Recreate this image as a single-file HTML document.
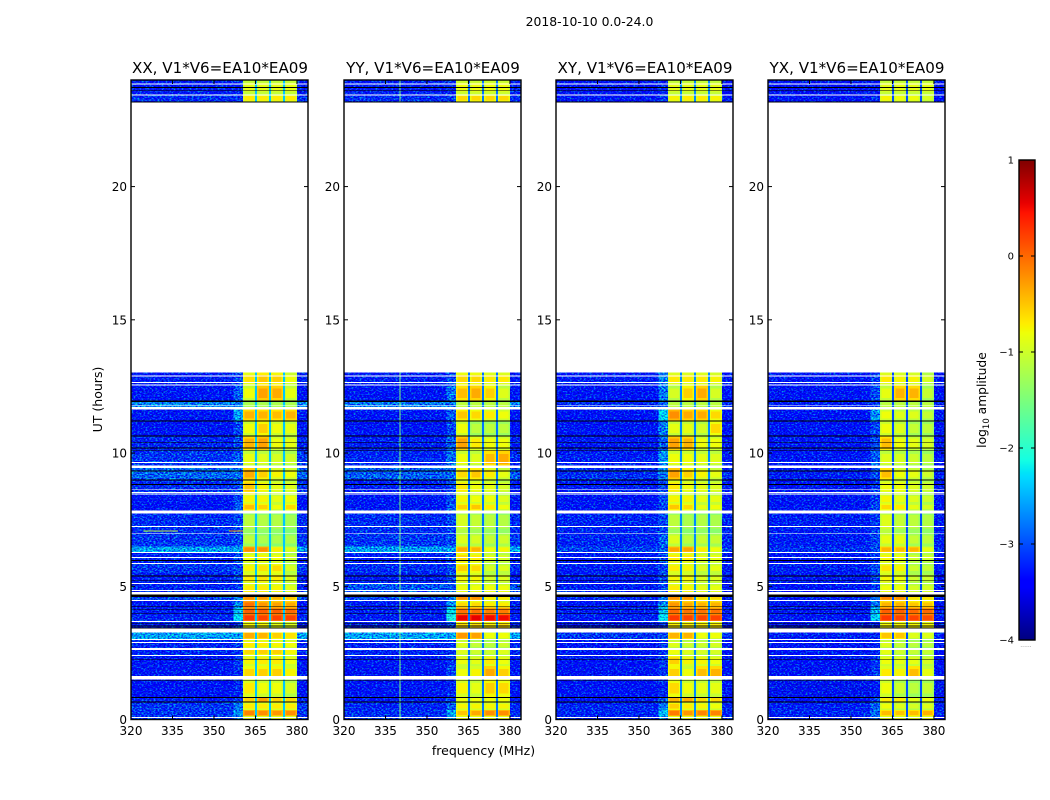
<!DOCTYPE html>
<html lang="en">
<head>
<meta charset="utf-8">
<title>2018-10-10 0.0-24.0</title>
<style>
html,body{margin:0;padding:0;background:#fff;width:1050px;height:800px;overflow:hidden}
svg{display:block}
text{font-family:"DejaVu Sans","Liberation Sans",sans-serif;fill:#000}
</style>
</head>
<body>
<svg id="chart" xmlns="http://www.w3.org/2000/svg" width="1050" height="800" viewBox="0 0 1050 800">
  <defs>
    <filter id="speckle" filterUnits="userSpaceOnUse" x="0" y="0" width="1050" height="800" color-interpolation-filters="sRGB">
      <feTurbulence type="fractalNoise" baseFrequency="0.5 0.7" numOctaves="2" seed="7" result="n"/>
      <feColorMatrix in="n" type="matrix" values="0 0 0 0 0.5  2.2 0 0 0 -0.6  0 1 0 0 0  0 0 0 0 1" result="c"/>
      <feComposite in="SourceGraphic" in2="c" operator="arithmetic" k1="0" k2="1" k3="1" k4="-0.5" result="mixed"/>
      <feComposite in="mixed" in2="SourceGraphic" operator="in"/>
    </filter>
  </defs>
  <text x="589.5" y="26" text-anchor="middle" font-size="12.4">2018-10-10 0.0-24.0</text>
  <text x="483.5" y="755" text-anchor="middle" font-size="12.5">frequency (MHz)</text>
  <text x="102" y="399.5" text-anchor="middle" font-size="12.5" transform="rotate(-90 102 399.5)">UT (hours)</text>
  <text x="986" y="400" text-anchor="middle" font-size="12.3" transform="rotate(-90 986 400)">log<tspan font-size="8.5" dy="3">10</tspan><tspan dy="-3"> amplitude</tspan></text>
  <g id="panels"></g>
  <g id="colorbar"></g>
</svg>
<script>
/* ---------- shared axes data ---------- */
const xTicks = [320, 335, 350, 365, 380];
const yTicks = [0, 5, 10, 15, 20];
const colorTicks = [1, 0, -1, -2, -3, -4];
const panelTitles = ['XX, V1*V6=EA10*EA09', 'YY, V1*V6=EA10*EA09', 'XY, V1*V6=EA10*EA09', 'YX, V1*V6=EA10*EA09'];

/* time-row boundaries in hours; row 33 (13.02-23.17) holds no data */
const rowEdges = [0,.13,.36,.63,.85,1.5,2,2.4,2.65,3,3.3,3.68,3.95,4.2,4.45,4.7,5.1,5.5,5.85,6.25,6.5,7,7.85,8.1,8.45,9,9.45,10.1,10.65,11.2,11.65,11.95,12.55,13.02,23.17,23.45,24];

/* sub-band boundaries in MHz */
const subBands = [[360.5,364.9],[365.6,369.9],[370.6,374.9],[375.6,380]];
const bandNotches = [[364.9,365.6],[369.9,370.6],[374.9,375.6]];
const shoulderRange = [357,360.5];

/* log10 amplitude: background per time row */
const xxBackground = [-3.2,-3.15,-3.15,-3.3,-3.4,-3.35,-3.35,-3.25,-3.25,-2.6,-3.25,-3.25,-3.3,-3.35,-3.05,-3.25,-3.3,-3.15,-3.3,-2.6,-3.15,-3.2,-3.4,-3.35,-3.2,-2.9,-3.15,-3.25,-3.4,-3.35,-2.75,-3.35,-3.3,null,-3.2,-3.3];
const yyBackground = [-3.2,-3.2,-3.25,-3.35,-3.4,-3.4,-3.35,-3.25,-3.25,-2.6,-3.25,-3.3,-3.3,-3.3,-3.05,-3,-3.3,-3.2,-3.3,-2.6,-3.15,-3.2,-3.35,-3.35,-3.3,-2.95,-3.25,-3.3,-3.4,-3.35,-2.8,-3.35,-3.3,null,-3.2,-3.3];
const xyBackground = [-3.3,-3.25,-3.25,-3.4,-3.45,-3.4,-3.4,-3.35,-3.35,-3.15,-3.35,-3.3,-3.3,-3.35,-3.25,-3.3,-3.35,-3.3,-3.35,-3.1,-3.25,-3.25,-3.4,-3.4,-3.3,-3.2,-3.3,-3.35,-3.45,-3.4,-3.2,-3.4,-3.3,null,-3.35,-3.4];
const yxBackground = [-3.35,-3.25,-3.3,-3.4,-3.5,-3.45,-3.45,-3.4,-3.35,-3.3,-3.4,-3.35,-3.35,-3.4,-3.3,-3.35,-3.35,-3.3,-3.4,-3.2,-3.3,-3.3,-3.45,-3.4,-3.35,-3.3,-3.35,-3.35,-3.45,-3.45,-3.3,-3.45,-3.35,null,-3.4,-3.45];

/* log10 amplitude: shoulder just below the band per time row */
const xxShoulder = [-2.8,-2.7,-2.8,-3.15,-3.25,-3.2,-3.15,-3.15,-3.15,-2.6,-3.15,-2.3,-2.45,-2.7,-2.8,-3.15,-3.05,-3.05,-3.05,-2.6,-3.05,-3.05,-2.95,-3.05,-3.05,-2.85,-2.95,-3.05,-3.05,-2.6,-2.8,-2.95,-3.05,null,-3.15,-3.25];
const yyShoulder = [-2.7,-2.6,-2.95,-3.15,-3.25,-3.05,-3.15,-3.15,-3.15,-2.6,-3.05,-2.1,-2.25,-2.7,-2.8,-3,-3.05,-3.05,-3.05,-2.6,-3.05,-3.05,-2.95,-3.05,-3.05,-2.9,-2.85,-2.95,-3.05,-2.95,-2.8,-2.85,-3.05,null,-3.15,-3.25];
const xyShoulder = [-2.8,-2.45,-2.8,-3.05,-3.25,-3.15,-3.15,-3.15,-3.15,-3.05,-3.15,-2.25,-2.4,-2.7,-2.8,-3.05,-3.05,-3.05,-3.05,-2.95,-2.95,-3.05,-3.05,-3.05,-3.05,-2.8,-2.7,-2.95,-2.8,-2.35,-2.95,-2.8,-2.8,null,-3.15,-3.25];
const yxShoulder = [-2.95,-2.85,-2.95,-3.15,-3.35,-3.15,-3.15,-3.25,-3.25,-3.25,-3.25,-2.35,-2.5,-2.85,-2.95,-3.15,-3.05,-3.05,-3.15,-3.05,-3.05,-3.15,-3.05,-3.15,-3.15,-3.05,-2.95,-3.05,-3.05,-2.7,-3.15,-3.05,-3.15,null,-3.25,-3.35];

/* log10 amplitude: the four sub-bands per time row */
const xxBand = [[-.85,-.85,-.85,-.85],[-.15,-.2,-.25,-.2],[-.7,-.7,-.7,-.7],[-.55,-.3,-.55,-.6],[-.7,-.8,-.8,-.95],[-.6,-.55,-.55,-.75],[-.75,-.7,-.7,-.8],[-.6,-.55,-.55,-.75],[-.7,-.7,-.75,-.8],[-.35,-.4,-.55,-.65],[-.75,-.75,-.85,-.9],[.25,.2,.2,.2],[.05,.05,.05,0],[-.05,-.25,-.3,-.35],[-.2,-.25,-.4,-.5],[-.7,-.7,-.75,-.9],[-.7,-.65,-.7,-.9],[-.75,-.65,-.6,-.95],[-.8,-.75,-.8,-1],[-.2,-.2,-.7,-.9],[-1.1,-1.2,-1.2,-1.2],[-1.1,-1.15,-1.15,-1.25],[-.45,-.55,-.8,-.6],[-.75,-.75,-.85,-.8],[-.5,-.75,-.85,-.9],[-.35,-.55,-.75,-.8],[-.85,-.9,-.95,-1],[-.4,-.3,-.8,-.85],[-.8,-.55,-.8,-.85],[-.4,-.4,-.45,-.4],[-1.2,-1.2,-1.2,-1.2],[-.8,-.3,-.35,-.85],[-.65,-.5,-.55,-.8],null,[-.7,-.7,-.7,-.7],[-.85,-.85,-.85,-.85]];
const yyBand = [[-.8,-.8,-.8,-.8],[-.5,-.35,-.2,-.2],[-.75,-.75,-.75,-.75],[-.8,-.8,-.8,-.8],[-.75,-.85,-.55,-.6],[-.8,-.75,-.35,-.55],[-.8,-.85,-.7,-.8],[-.9,-1,-1,-.9],[-.9,-1.05,-1.1,-1],[-.25,-.3,-.8,-.8],[-.6,-.6,-.7,-.6],[.55,.55,.5,.5],[-.05,-.05,-.1,-.1],[-.6,-.6,-.7,-.7],[-.2,-.2,-.7,-.7],[-.8,-.8,-.8,-.8],[-.75,-.75,-.95,-.9],[-.55,-.6,-.95,-.9],[-.6,-.7,-.9,-.95],[-.35,-.4,-.8,-.75],[-.9,-.95,-1.05,-1],[-.95,-1.05,-1.1,-1.15],[-.55,-.5,-.7,-.8],[-.75,-.8,-.8,-.9],[-.7,-.8,-.85,-.95],[-.6,-.5,-.7,-.85],[-.8,-.9,-.45,-.35],[-.3,-.7,-.8,-.8],[-.8,-1.1,-1.1,-1.1],[-.5,-.6,-.7,-.8],[-1.1,-1.1,-1.1,-1.1],[-.45,-.35,-.55,-.9],[-.6,-.6,-.7,-.7],null,[-.6,-.6,-.6,-.6],[-.8,-.8,-.8,-.8]];
const xyBand = [[-.8,-.8,-.8,-.8],[-.1,-.25,-.15,-.15],[-.55,-.7,-.75,-.8],[-.4,-.35,-.6,-.6],[-.6,-.8,-.85,-.85],[-.55,-.8,-.45,-.4],[-.55,-.75,-.75,-.8],[-.8,-.9,-.95,-.95],[-.9,-1,-1,-.95],[-.4,-.4,-.8,-.8],[-.7,-.7,-.7,-.7],[.25,.2,.2,.2],[0,-.05,-.05,-.05],[-.25,-.35,-.4,-.4],[-.2,-.25,-.6,-.6],[-.7,-.75,-.85,-.85],[-.75,-.75,-.9,-.9],[-.7,-.75,-.9,-.85],[-.7,-.7,-.85,-.85],[-.3,-.3,-.7,-.8],[-.9,-1.1,-1.05,-1.05],[-1.1,-1.2,-1.15,-1.2],[-.5,-.6,-.85,-.8],[-.75,-.75,-.85,-.85],[-.7,-.8,-.85,-.9],[-.3,-.55,-.75,-.85],[-.8,-.8,-.85,-.9],[-.3,-.4,-.8,-.8],[-.85,-.85,-.95,-.6],[-.2,-.35,-.35,-.6],[-1.1,-1.1,-1.1,-1.1],[-.95,-.55,-.35,-.95],[-.7,-.7,-.7,-.75],null,[-.75,-.7,-.7,-.75],[-.85,-.85,-.85,-.85]];
const yxBand = [[-.85,-.85,-.85,-.85],[-.45,-.5,-.45,-.4],[-.8,-.9,-.95,-.9],[-.7,-.7,-.85,-.8],[-.8,-1,-1.1,-1.05],[-.7,-.75,-.45,-.85],[-.8,-.85,-.85,-.95],[-.85,-1,-1.05,-1.05],[-.9,-1.05,-1.1,-1.1],[-.5,-.5,-.9,-.9],[-.75,-.75,-.75,-.75],[.25,.2,.2,.15],[.05,.05,0,0],[-.4,-.4,-.5,-.5],[-.15,-.2,-.65,-.65],[-.8,-.8,-.95,-.95],[-.75,-.8,-1,-1],[-.65,-.75,-1,-1.05],[-.75,-.8,-1,-1],[-.4,-.45,-.4,-.85],[-.85,-.85,-1.05,-1.1],[-.9,-1.05,-1.1,-1.15],[-.6,-.7,-.85,-.95],[-.75,-.85,-.9,-1],[-.8,-.8,-.9,-1],[-.45,-.8,-.85,-1],[-.9,-.95,-1,-1.1],[-.45,-.8,-.85,-.95],[-.8,-.9,-1.05,-1.1],[-.8,-.9,-.9,-1.05],[-1.1,-1.1,-1.1,-1.1],[-.85,-.4,-.4,-1.05],[-.7,-.75,-.75,-.95],null,[-.75,-.8,-.8,-.95],[-.85,-.85,-.85,-.85]];

/* log10 amplitude in the notches between sub-bands */
const notchLevels = [-2.4, -2.8, -2.7, -3];

/* how far a sub-band's rim sits below its core, in log10 amplitude */
const bandRimDrop = 0.22;

/* narrow-band interference: panel index, MHz, log10 amplitude */
const spectralLines = [[1, 340, -1.5]];

/* short interference bursts in XX: MHz start, MHz end, hour, log10 amplitude */
const burstSegments = [[324.5, 337, 7.1, -1.1], [355.5, 360.5, 7.1, -.3]];

/* time ranges with flagged data, in hours */
const blankRanges = [[.06,.09],[1.5,1.63],[2.38,2.42],[2.61,2.68],[2.87,2.91],[2.98,3.02],[3.26,3.41],[3.66,3.7],[4.44,4.48],[4.69,4.78],[4.82,4.86],[5.08,5.12],[5.83,5.87],[6.06,6.09],[6.24,6.28],[6.96,6.99],[7.22,7.26],[7.74,7.85],[8.42,8.45],[8.49,8.53],[8.61,8.64],[9.43,9.54],[9.62,9.66],[11.64,11.72],[11.76,11.79],[12.54,12.58],[12.62,12.66],[12.87,12.91],[23.41,23.45],[23.83,23.87]];
const zeroRanges = [[.64,.67],[.81,.84],[1.44,1.47],[2.25,2.28],[3.42,3.45],[3.49,3.52],[3.6,3.63],[3.97,4],[4.12,4.15],[4.22,4.25],[4.59,4.69],[5.19,5.22],[5.37,5.4],[5.94,5.98],[8.81,8.84],[8.97,9],[9.3,9.34],[10.09,10.12],[10.17,10.2],[10.39,10.42],[10.62,10.65],[11.19,11.22],[11.91,11.98],[23.15,23.19],[23.6,23.63],[23.7,23.73]];

/* ---------- scales ---------- */
const panelLefts = [131, 344, 556, 768];
const panelWidth = 177, plotTop = 80, plotBottom = 719.5;
const freqMin = 320, freqMax = 384, hourMax = 24;
const colorMin = -4, colorMax = 1;
const cbLeft = 1019, cbWidth = 16, cbTop = 160, cbBottom = 640;

function xScale(p, mhz){ return panelLefts[p] + (mhz - freqMin) / (freqMax - freqMin) * panelWidth; }
function yScale(h){ return plotBottom - h / hourMax * (plotBottom - plotTop); }
function cbScale(v){ return cbBottom - (v - colorMin) / (colorMax - colorMin) * (cbBottom - cbTop); }

function ramp(stops, t){
  for (let i = 1; i < stops.length; i++) {
    if (t <= stops[i][0]) {
      const a = stops[i-1], b = stops[i];
      return a[1] + (b[1] - a[1]) * (t - a[0]) / (b[0] - a[0]);
    }
  }
  return stops[stops.length-1][1];
}
const jetR = [[0,0],[.35,0],[.66,1],[.89,1],[1,.5]];
const jetG = [[0,0],[.125,0],[.375,1],[.64,1],[.91,0],[1,0]];
const jetB = [[0,.5],[.11,1],[.34,1],[.65,0],[1,0]];
function jet(v){
  const t = Math.max(0, Math.min(1, (v - colorMin) / (colorMax - colorMin)));
  return 'rgb(' + Math.round(ramp(jetR,t)*255) + ',' + Math.round(ramp(jetG,t)*255) + ',' + Math.round(ramp(jetB,t)*255) + ')';
}

const NS = 'http://www.w3.org/2000/svg';
function rect(parent, x, y, w, h, fill){
  const r = document.createElementNS(NS, 'rect');
  r.setAttribute('x', x.toFixed(2));
  r.setAttribute('y', y.toFixed(2));
  r.setAttribute('width', w.toFixed(2));
  r.setAttribute('height', h.toFixed(2));
  r.setAttribute('fill', fill);
  r.setAttribute('shape-rendering', 'crispEdges');
  parent.appendChild(r);
  return r;
}
function line(parent, x1, y1, x2, y2){
  const l = document.createElementNS(NS, 'line');
  l.setAttribute('x1', x1); l.setAttribute('y1', y1);
  l.setAttribute('x2', x2); l.setAttribute('y2', y2);
  l.setAttribute('stroke', '#000');
  l.setAttribute('stroke-width', '1');
  parent.appendChild(l);
  return l;
}
function label(parent, x, y, str, size, anchor){
  const t = document.createElementNS(NS, 'text');
  t.setAttribute('x', x); t.setAttribute('y', y);
  t.setAttribute('font-size', size);
  t.setAttribute('text-anchor', anchor);
  t.textContent = str;
  parent.appendChild(t);
  return t;
}
function group(parent){
  const g = document.createElementNS(NS, 'g');
  parent.appendChild(g);
  return g;
}

/* ---------- panels ---------- */
const backgrounds = [xxBackground, yyBackground, xyBackground, yxBackground];
const shoulders = [xxShoulder, yyShoulder, xyShoulder, yxShoulder];
const bands = [xxBand, yyBand, xyBand, yxBand];
const panelsRoot = document.getElementById('panels');

panelTitles.forEach(function(title, p){
  const g = group(panelsRoot);
  
  

  const noisy = group(g);
  
  
  noisy.setAttribute('filter', 'url(#speckle)');

  const smooth = group(g);
  
  

  const flags = group(g);
  
  

  const bg = backgrounds[p], sh = shoulders[p], bd = bands[p];
  for (let r = 0; r < bg.length; r++) {
    if (bg[r] === null) continue;
    const yTop = yScale(rowEdges[r+1]);
    const h = yScale(rowEdges[r]) - yTop;

    const bgCell = rect(noisy, xScale(p, freqMin), yTop, panelWidth, h, jet(bg[r]));
    
    

    const shCell = rect(noisy, xScale(p, shoulderRange[0]), yTop, xScale(p, shoulderRange[1]) - xScale(p, shoulderRange[0]), h, jet(sh[r]));
    
    

    subBands.forEach(function(b, c){
      const rim = rect(smooth, xScale(p, b[0]), yTop, xScale(p, b[1]) - xScale(p, b[0]), h, jet(bd[r][c] - bandRimDrop));
      
      
      const core = rect(smooth, xScale(p, b[0] + .5), yTop + h * .2, xScale(p, b[1] - .5) - xScale(p, b[0] + .5), h * .6, jet(bd[r][c]));
      
      
    });
    bandNotches.forEach(function(n){
      const cell = rect(smooth, xScale(p, n[0]), yTop, xScale(p, n[1]) - xScale(p, n[0]), h, jet(notchLevels[p]));
      
      
    });
  }

  spectralLines.forEach(function(s){
    if (s[0] !== p) return;
    for (let r = 0; r < bg.length; r++) {
      if (bg[r] === null) continue;
      const yTop = yScale(rowEdges[r+1]);
      const mark = rect(smooth, xScale(p, s[1]), yTop, 1, yScale(rowEdges[r]) - yTop, jet(s[2]));
      
      
    }
  });

  if (p === 0) {
    burstSegments.forEach(function(b){
      const mark = rect(smooth, xScale(p, b[0]), yScale(b[2]), xScale(p, b[1]) - xScale(p, b[0]), 1, jet(b[3]));
      
      
    });
  }

  blankRanges.forEach(function(q){
    const mark = rect(flags, panelLefts[p], yScale(q[1]), panelWidth, yScale(q[0]) - yScale(q[1]), '#fff');
    
    
  });
  zeroRanges.forEach(function(q){
    const mark = rect(flags, panelLefts[p], yScale(q[1]), panelWidth, yScale(q[0]) - yScale(q[1]), '#000');
    
    
  });

  const frame = document.createElementNS(NS, 'rect');
  frame.setAttribute('x', panelLefts[p]);
  frame.setAttribute('y', plotTop);
  frame.setAttribute('width', panelWidth);
  frame.setAttribute('height', plotBottom - plotTop);
  frame.setAttribute('fill', 'none');
  frame.setAttribute('stroke', '#000');
  frame.setAttribute('stroke-width', '1.4');
  
  
  g.appendChild(frame);

  xTicks.forEach(function(v){
    const x = xScale(p, v);
    const a = line(g, x, plotBottom, x, plotBottom - 4);
    
    
    const b = line(g, x, plotTop, x, plotTop + 4);
    
    
    const t = label(g, x, 735, String(v), 12, 'middle');
    
    
  });
  yTicks.forEach(function(v){
    const y = yScale(v);
    const a = line(g, panelLefts[p], y, panelLefts[p] + 4, y);
    
    
    const b = line(g, panelLefts[p] + panelWidth, y, panelLefts[p] + panelWidth - 4, y);
    
    
    const t = label(g, panelLefts[p] - 4, y + 4.5, String(v), 12, 'end');
    
    
  });

  const titleText = label(g, panelLefts[p] + panelWidth / 2 + 0.5, 73, title, 15.1, 'middle');
  
  
});

/* ---------- colorbar ---------- */
const cbRoot = document.getElementById('colorbar');
const cbSteps = [];
for (let i = 0; i < cbBottom - cbTop; i++) cbSteps.push(i);
cbSteps.forEach(function(i){
  const v = colorMin + (i + .5) / cbSteps.length * (colorMax - colorMin);
  const s = rect(cbRoot, cbLeft, cbScale(v) - .5, cbWidth, 1.2, jet(v));
  
  
});
const cbFrame = document.createElementNS(NS, 'rect');
cbFrame.setAttribute('x', cbLeft);
cbFrame.setAttribute('y', cbTop);
cbFrame.setAttribute('width', cbWidth);
cbFrame.setAttribute('height', cbBottom - cbTop);
cbFrame.setAttribute('fill', 'none');
cbFrame.setAttribute('stroke', '#000');
cbFrame.setAttribute('stroke-width', '1.4');


cbRoot.appendChild(cbFrame);

colorTicks.forEach(function(v){
  const y = cbScale(v);
  const a = line(cbRoot, cbLeft, y, cbLeft + 4, y);
  
  
  const b = line(cbRoot, cbLeft + cbWidth, y, cbLeft + cbWidth - 4, y);
  
  
  const t = label(cbRoot, cbLeft - 5, y + 3.5, String(v).replace('-', '\u2212'), 10, 'end');
  
  
});
const minorDots = label(cbRoot, 1026, 647, '......', 6, 'middle');


minorDots.setAttribute('style', 'fill:#888');
</script>
</body>
</html>
